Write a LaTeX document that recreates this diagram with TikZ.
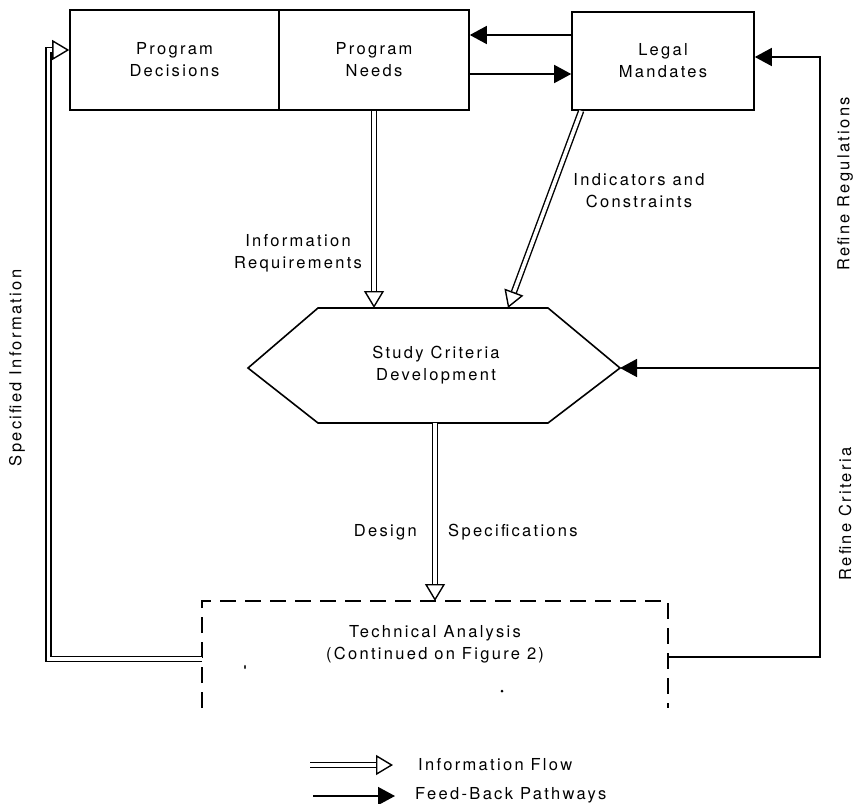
\documentclass[tikz,border=0pt]{standalone}
\usepackage{fontspec}
\setmainfont{TeX Gyre Heros}[LetterSpace=14]
\usetikzlibrary{arrows.meta,calc}

\begin{document}
\begin{tikzpicture}[x=1pt,y=-1pt,
  lbl/.style={font=\fontsize{16.5}{22}\selectfont, align=center, inner sep=0pt},
  box/.style={draw, line width=1.6pt, inner sep=0pt, font=\fontsize{16.5}{22}\selectfont, align=center},
  fb/.style={line width=1.5pt, -{Triangle[length=17pt,width=18pt]}},
  flow/.style={double, double distance=3.6pt, line width=1.4pt, line join=miter},
  flowhead/.style={line width=1.4pt, line join=miter, -{Triangle[open,length=17pt,width=20pt]}},
  dashframe/.style={line width=1.8pt, dash pattern=on 16pt off 9pt}
]
\useasboundingbox (0,0) rectangle (859,803);

% top row of boxes
\node[box, minimum width=209pt, minimum height=100pt] (pd) at (174.5,60) {Program\\Decisions};
\node[box, minimum width=190pt, minimum height=100pt] (pn) at (374,60) {Program\\Needs};
\node[box, minimum width=182pt, minimum height=98pt] (lm) at (663,61) {Legal\\Mandates};

% hexagon outline
\coordinate (hL) at (248,368);
\coordinate (hTL) at (318,308);
\coordinate (hTR) at (548,308);
\coordinate (hR) at (620,368);
\coordinate (hBR) at (548,423);
\coordinate (hBL) at (318,423);
\draw[line width=1.6pt, line join=miter] (hL) -- (hTL) -- (hTR) -- (hR) -- (hBR) -- (hBL) -- cycle;
\node[lbl] (scd) at (436,365) {Study Criteria\\Development};
\coordinate (hN1) at (374,308);
\coordinate (hN2) at (508,308);
\coordinate (hS) at (435,423);

% open-bottom dashed frame
\draw[dashframe] (202,708) -- (202,601) -- (668,601) -- (668,708);
\node[lbl] (ta) at (435,644) {Technical Analysis\\(Continued on Figure 2)};
\coordinate (taN) at (435,601);
\coordinate (taL) at (202,659);
\coordinate (taR) at (668,657);
\fill (245,667) ellipse (0.8pt and 2.2pt);
\fill (502,691) circle (1.5pt);

% feed-back between needs and mandates
\draw[fb] (lm.west |- 0,35) -- (pn.east |- 0,35);
\draw[fb] (pn.east |- 0,74) -- (lm.west |- 0,74);

% refine loops on the right
\coordinate (rc) at (820,368);
\draw[fb] (taR) -| (820,57) -- (lm.east |- 0,57);
\draw[fb] (rc) -- (hR);

% information flow: needs -> criteria
\coordinate (b1) at ($(hN1)!17pt!(pn.south)$);
\draw[flow] (pn.south) -- (b1);
\draw[flowhead] (b1) -- (hN1);

% information flow: mandates -> criteria
\coordinate (lmS) at ($(lm.south west)+(10,0)$);
\coordinate (b2) at ($(hN2)!17pt!(lmS)$);
\draw[flow] (lmS) -- (b2);
\draw[flowhead] (b2) -- (hN2);

% information flow: criteria -> analysis
\coordinate (b3) at ($(taN)!17pt!(hS)$);
\draw[flow] (hS) -- (b3);
\draw[flowhead] (b3) -- (taN);

% information flow: analysis -> decisions
\coordinate (pdIn) at (pd.west |- 0,50);
\coordinate (b4) at ($(pdIn)+(-17,0)$);
\draw[flow] (taL) -| (48.5,50) -- (b4);
\draw[flowhead] (b4) -- (pdIn);

% edge labels
\node[lbl] (irl) at (298,253) {Information\\Requirements};
\node[lbl] (icl) at (639,191) {Indicators and\\Constraints};
\node[lbl, anchor=east] (dl) at (417,532) {Design};
\node[lbl, anchor=west] (sl) at (448,532) {Specifications};
\node[lbl, rotate=90] (si) at (17,368) {Specified Information};
\node[lbl, rotate=90] (rr) at (845,184) {Refine Regulations};
\node[lbl, rotate=90] (rcl) at (845,514) {Refine Criteria};

% legend
\coordinate (lf1) at (310,765);
\coordinate (lf2) at (393,765);
\coordinate (lfb) at ($(lf2)+(-17,0)$);
\draw[flow] (lf1) -- (lfb);
\draw[flowhead] (lfb) -- (lf2);
\node[lbl, anchor=west] (lft) at (418,765) {Information Flow};
\coordinate (lb1) at (313,796);
\coordinate (lb2) at (395,796);
\draw[fb] (lb1) -- (lb2);
\node[lbl, anchor=west] (lbt) at (415,795) {Feed-Back Pathways};
\end{tikzpicture}
\end{document}
